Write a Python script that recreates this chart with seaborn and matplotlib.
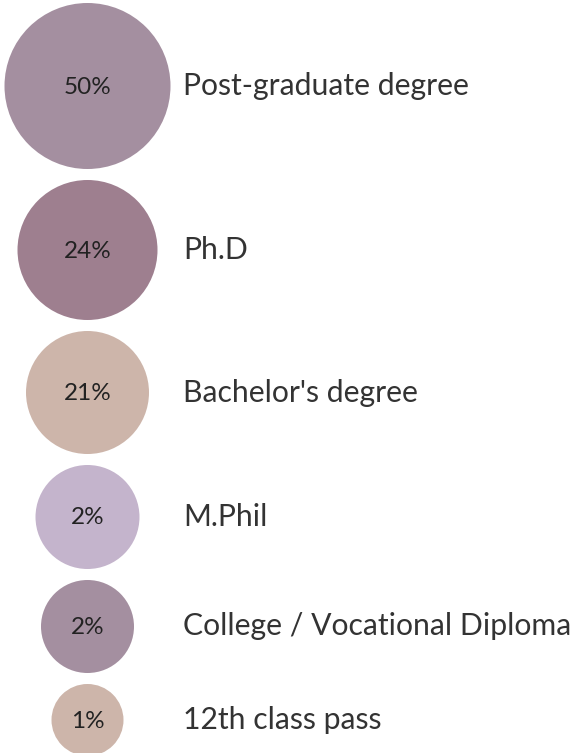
import numpy as np
import pandas as pd
import seaborn as sns
from matplotlib import pyplot as plt

# data
categories = ["Post-graduate degree", "Ph.D", "Bachelor's degree", "M.Phil",
              "College / Vocational Diploma", "12th class pass"]
share = [50, 24, 21, 2, 2, 1]
pct_labels = ["50%", "24%", "21%", "2%", "2%", "1%"]

# bubble radius in pixels (not proportional to share in the original)
radius_px = [83, 70, 61.5, 52, 46.5, 36]
colors = ["#a48fa0", "#9e7f8f", "#cdb5aa", "#c4b4cc", "#a48fa0", "#cdb5aa"]

W, H, DPI = 573, 753, 100
gap = 11

# stack circles top to bottom with a constant gap
centers = []
top = 3
for r in radius_px:
    centers.append(top + r)
    top += 2 * r + gap

df = pd.DataFrame({"category": categories, "share": share, "label": pct_labels,
                   "x": 87.5, "y": centers, "r": radius_px})

sns.set_theme(style="white")
plt.rcParams["font.family"] = ["Lato", "DejaVu Sans"]

fig = plt.figure(figsize=(W / DPI, H / DPI), dpi=DPI)
ax = fig.add_axes([0, 0, 1, 1])

# marker area in pt^2: diameter px -> points
sizes = {c: (2 * r * 72 / DPI) ** 2 for c, r in zip(categories, radius_px)}
sns.scatterplot(data=df, x="x", y="y", hue="category", size="category",
                sizes=sizes, palette=dict(zip(categories, colors)),
                linewidth=0, legend=False, ax=ax)

for _, row in df.iterrows():
    ax.text(row["x"], row["y"] + 1, row["label"], ha="center", va="center",
            fontsize=17.5, color="#222222")
    ax.text(183, row["y"], row["category"], ha="left", va="center",
            fontsize=21.7, color="#333333")

ax.set_xlim(0, W)
ax.set_ylim(H, 0)
ax.axis("off")

fig.savefig("out.png", dpi=DPI)
